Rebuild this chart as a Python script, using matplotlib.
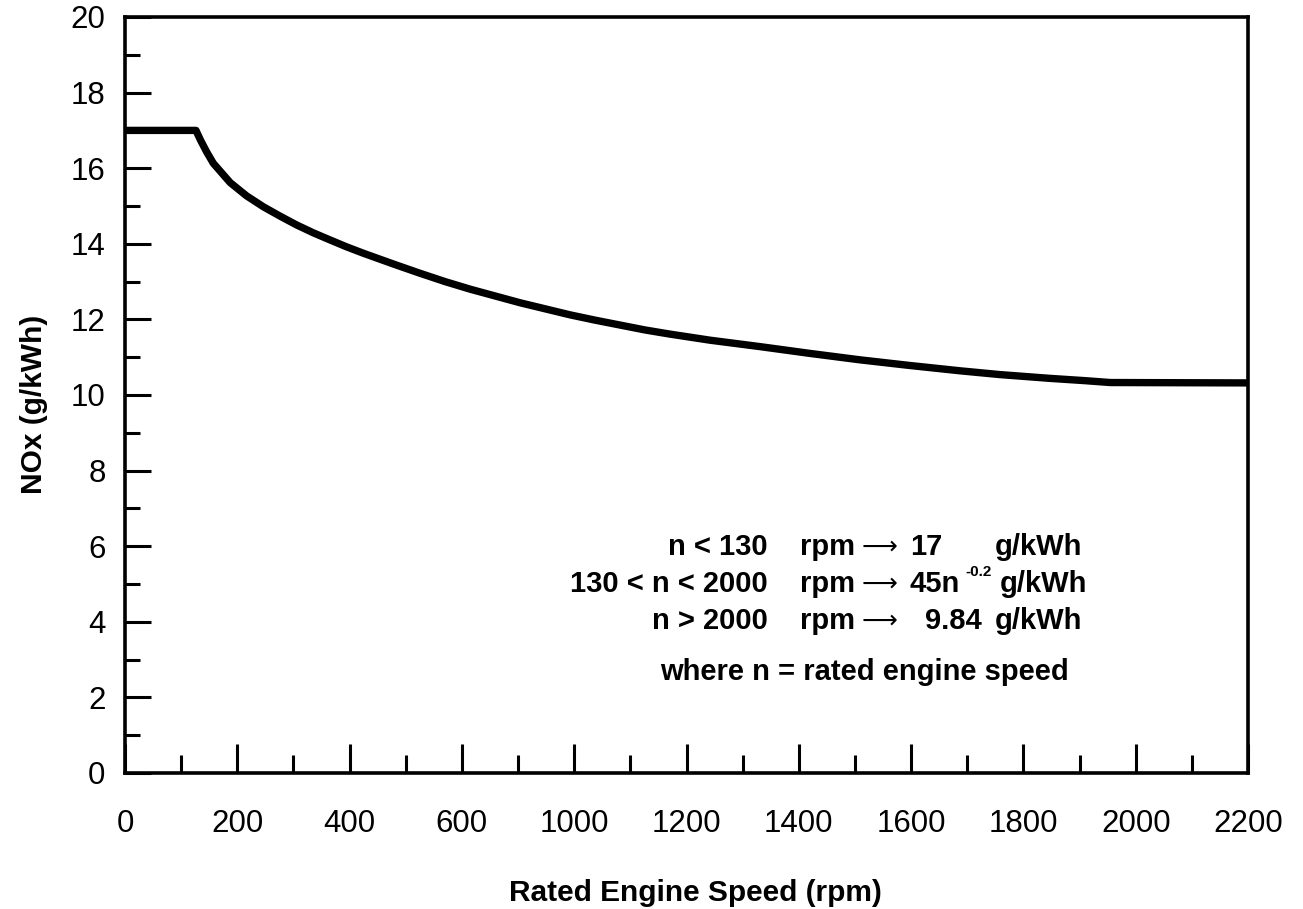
import matplotlib
matplotlib.use('Agg')
import matplotlib.pyplot as plt
from matplotlib.ticker import MultipleLocator

# curve (x in axis units, 10 equal intervals of 220)
speed = [0, 139, 148, 160, 173, 206, 238, 271, 304, 336, 369, 402, 434, 467, 500,
         529, 578, 627, 676, 725, 774, 823, 872, 921, 970, 1019, 1068, 1146,
         1244, 1342, 1440, 1538, 1636, 1714, 1812, 1880, 1930, 2200]
nox = [17.0, 17.0, 16.74, 16.43, 16.13, 15.62, 15.27, 14.98, 14.73, 14.50, 14.29,
       14.10, 13.92, 13.75, 13.59, 13.45, 13.22, 13.00, 12.80, 12.62, 12.44,
       12.28, 12.12, 11.98, 11.85, 11.72, 11.61, 11.45, 11.28, 11.10, 10.93,
       10.78, 10.64, 10.54, 10.44, 10.38, 10.33, 10.32]

# tick labels as printed (800 is missing on the original)
xtick_labels = ['0', '200', '400', '600', '1000', '1200', '1400', '1600',
                '1800', '2000', '2200']
ytick_labels = [str(v) for v in range(0, 21, 2)]

plt.rcParams['font.family'] = ['Liberation Sans', 'DejaVu Sans']

fig = plt.figure(figsize=(13.03, 9.09), dpi=100)
ax = fig.add_axes([125/1303, 1-773/909, 1123/1303, 756/909])

ax.plot(speed, nox, color='black', lw=5.3, solid_joinstyle='round')

ax.set_xlim(0, 2200)
ax.set_ylim(0, 20)
ax.set_xticks([i*220 for i in range(11)])
ax.set_xticklabels(xtick_labels)
ax.xaxis.set_minor_locator(MultipleLocator(110))
ax.set_yticks(range(0, 21, 2))
ax.set_yticklabels(ytick_labels)
ax.yaxis.set_minor_locator(MultipleLocator(1))

ax.tick_params(which='both', direction='in', top=False, right=False, width=2.2, labelsize=22.5)
ax.tick_params(axis='x', which='major', length=21, pad=26)
ax.tick_params(axis='x', which='minor', length=13)
ax.tick_params(axis='y', which='major', length=19, pad=14)
ax.tick_params(axis='y', which='minor', length=11)
for s in ax.spines.values():
    s.set_linewidth(2.6)

ax.set_xlabel('Rated Engine Speed (rpm)', fontsize=21.5, fontweight='bold', labelpad=29)
ax.set_ylabel('NOx (g/kWh)', fontsize=21.5, fontweight='bold', labelpad=16)
ax.xaxis.label.set_x(0.508)
ax.yaxis.label.set_y(0.487)

# formula block
rows_y = [0.299, 0.250, 0.201]
conds = ['n < 130', '130 < n < 2000', 'n > 2000']
vals = ['17', '45n', '9.84']
vals_x = [0.6990, 0.6990, 0.7125]
unit_x = [0.7747, 0.7785, 0.7747]
kw = dict(fontsize=21, fontweight='bold', transform=ax.transAxes, va='center')
for y, c, v, vx, ux in zip(rows_y, conds, vals, vals_x, unit_x):
    ax.text(0.5726, y, c, ha='right', **kw)
    ax.text(0.601, y, 'rpm', ha='left', **kw)
    ax.text(0.6715, y, '\u27f6', ha='center', fontsize=18, family='DejaVu Sans',
            transform=ax.transAxes, va='center')
    ax.text(vx, y, v, ha='left', **kw)
    ax.text(ux, y, 'g/kWh', ha='left', **kw)
ax.text(0.7485, rows_y[1] + 0.016, '-0.2', ha='left', fontsize=11, fontweight='bold',
        transform=ax.transAxes, va='center')
ax.text(0.4764, 0.134, 'where n = rated engine speed', ha='left', **kw)

fig.savefig('out.png', dpi=100)
